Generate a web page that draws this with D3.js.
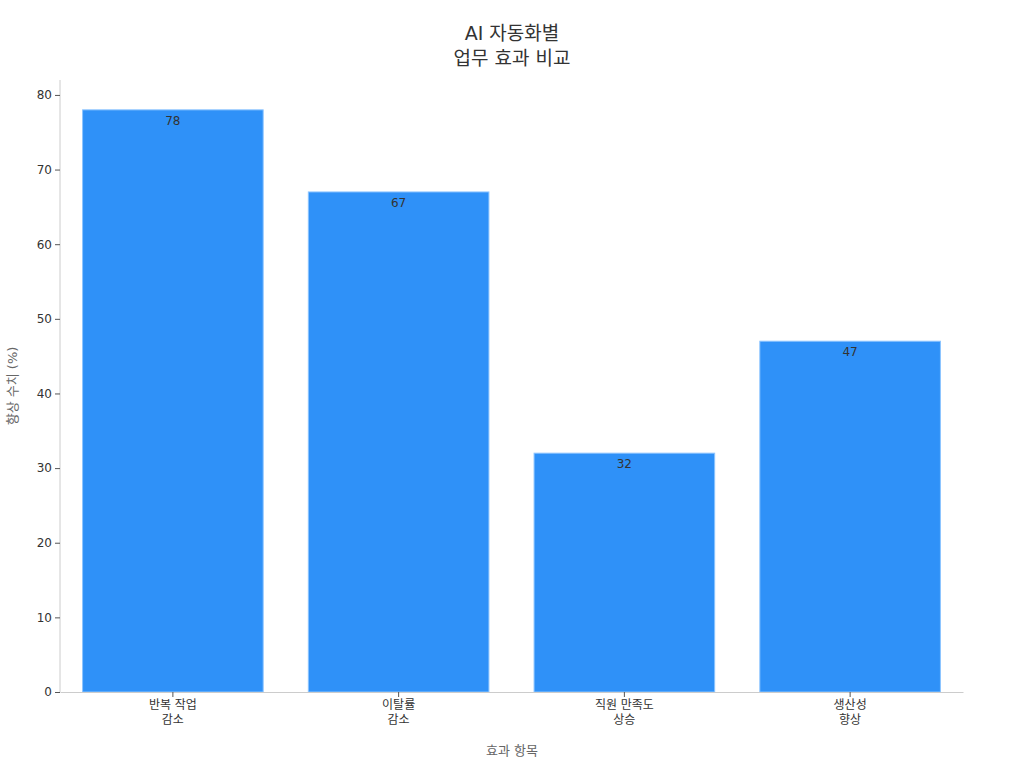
<!DOCTYPE html>
<html lang="ko">
<head>
<meta charset="UTF-8">
<title>AI 자동화별 업무 효과 비교</title>
<script src="https://d3js.org/d3.v7.min.js"></script>
<style>
    body { margin: 0; background: #fff; }
    text { font-family: "DejaVu Sans", "Noto Sans CJK KR", sans-serif; }
    .axis path, .axis line { stroke: #ccc; }
    .axis .tick line { stroke: #555; }
    .axis text { fill: #333; font-size: 12px; }
</style>
</head>
<body>
<script>
    const categories = [["반복 작업", "감소"], ["이탈률", "감소"], ["직원 만족도", "상승"], ["생산성", "향상"]];
    const values = [78, 67, 32, 47];
    const yTicks = [0, 10, 20, 30, 40, 50, 60, 70, 80];
    const titleLines = ["AI 자동화별", "업무 효과 비교"];

    const width = 1024, height = 768;
    const margin = {top: 80, right: 61, bottom: 76, left: 60};

    const svg = d3.select("body").append("svg")
        .attr("width", width).attr("height", height);

    const keys = categories.map(d => d.join(" "));

    const x = d3.scaleBand()
        .domain(keys)
        .range([margin.left, width - margin.right])
        .paddingInner(0.2).paddingOuter(0.1);

    const y = d3.scaleLinear()
        .domain([0, 82])
        .range([height - margin.bottom, margin.top]);

    // bars
    svg.append("g").selectAll("rect")
        .data(values)
        .join("rect")
        .attr("x", (d, i) => x(keys[i]))
        .attr("y", d => y(d))
        .attr("width", x.bandwidth())
        .attr("height", d => y(0) - y(d))
        .attr("fill", "#2f91f8")
        .attr("stroke", "#8cc4ff")
        .attr("stroke-width", 1);

    svg.append("g").selectAll("text")
        .data(values)
        .join("text")
        .attr("x", (d, i) => x(keys[i]) + x.bandwidth() / 2)
        .attr("y", d => y(d) + 15)
        .attr("text-anchor", "middle")
        .attr("fill", "#333")
        .style("font-size", "12px")
        .text(d => d);

    // axes
    const yAxis = svg.append("g")
        .attr("class", "axis")
        .attr("transform", `translate(${margin.left},0)`)
        .call(d3.axisLeft(y).tickValues(yTicks).tickSize(5).tickSizeOuter(0));
    yAxis.select(".domain").attr("d", `M0,${y(0)}V${margin.top}`);

    const xAxis = svg.append("g")
        .attr("class", "axis")
        .attr("transform", `translate(0,${y(0)})`)
        .call(d3.axisBottom(x).tickSize(5).tickSizeOuter(0));
    xAxis.selectAll(".tick text").each(function (d, i) {
        const t = d3.select(this).text(null);
        categories[i].forEach((line, j) => {
            t.append("tspan").attr("x", 0).attr("dy", j === 0 ? "0.71em" : "1.25em").text(line);
        });
    });

    // title, one text per line
    svg.append("g").selectAll("text")
        .data(titleLines)
        .join("text")
        .attr("x", width / 2)
        .attr("y", (d, i) => 40 + i * 25)
        .attr("text-anchor", "middle")
        .attr("fill", "#333")
        .style("font-size", "19px")
        .text(d => d);

    // axis labels
    svg.append("text")
        .attr("x", width / 2).attr("y", 755)
        .attr("text-anchor", "middle")
        .attr("fill", "#666")
        .style("font-size", "13px")
        .text("효과 항목");

    svg.append("text")
        .attr("transform", `translate(17,${(y(0) + margin.top) / 2}) rotate(-90)`)
        .attr("text-anchor", "middle")
        .attr("fill", "#666")
        .style("font-size", "13px")
        .text("향상 수치 (%)");
</script>
</body>
</html>
